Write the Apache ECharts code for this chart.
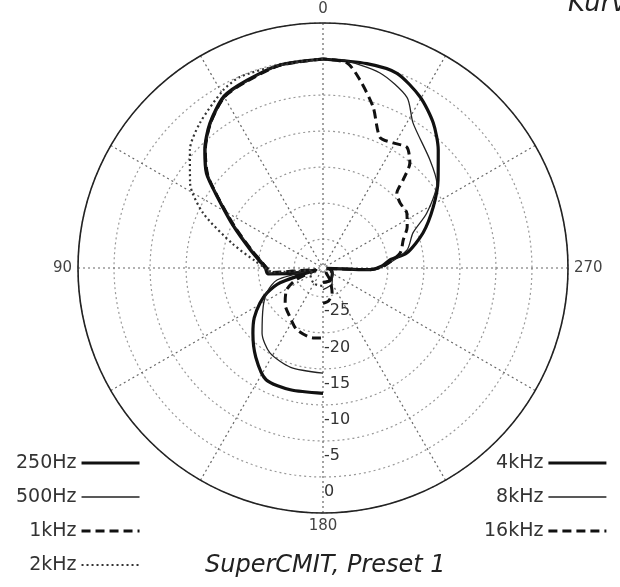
<!DOCTYPE html>
<html><head><meta charset="utf-8">
<script src="https://cdn.jsdelivr.net/npm/echarts@6/dist/echarts.min.js"></script>
<style>html,body{margin:0;padding:0;background:#fff}#c{width:620px;height:587px}</style>
</head><body><div id="c"></div>
<script>
// Compass angles in degrees: 0 = front (top), 90 = left, 180 = rear (bottom), 270 = right
// Levels in dB
const angleLabels = [0, 90, 180, 270];
const radiusLabels = [-25, -20, -15, -10, -5, 0];

// low frequencies, left half (0..180)
const ang250 = [0, 12, 22, 30, 38, 45, 51, 56, 65, 76, 84, 90, 96, 101, 105, 109, 114, 119, 126, 133, 143, 153, 165, 180];
const db250  = [0, -0.2, -0.9, -1.5, -3.5, -5.8, -8.2, -11.3, -15.3, -18.6, -20.2, -21, -21.3, -25, -28, -22.7, -20.5, -19, -17.2, -15.7, -13.5, -11.6, -11.5, -11.6];

const ang500 = [0, 12, 22, 30, 38, 45, 51, 56, 65, 76, 84, 90, 96, 100, 104.6, 113, 123, 137, 148, 162, 180];
const db500  = [0, -0.3, -1.0, -1.7, -3.7, -6.0, -8.5, -11.5, -15.6, -18.9, -20.5, -21.3, -21.5, -27.5, -22.4, -20.6, -19.1, -16.6, -15.1, -14.5, -14.4];

const ang1k = [0, 12, 22, 30, 38, 45, 51, 56, 65, 76, 84, 90, 95, 100, 106, 113, 121, 134, 146, 157, 172, 180];
const db1k  = [0, -0.25, -1.0, -1.6, -3.6, -5.9, -8.4, -11.4, -15.5, -18.8, -20.4, -21.2, -22, -27.5, -28, -25, -23.1, -21.7, -20.8, -19.7, -19.2, -19.3];

const ang2k = [0, 12, 23.5, 29.3, 40.3, 48.4, 57.4, 65.4, 75, 84, 90, 95, 100, 120, 150, 180];
const db2k  = [0, -0.2, -0.1, -0.7, -2.6, -4.3, -7.1, -10.7, -16, -19.5, -21, -22, -27.5, -27, -26.5, -26.5];

// high frequencies, right half (180..360)
const ang4k = [180, 210, 240, 260, 265, 268, 272, 277, 280.1, 289.3, 299, 307.4, 315.7, 322.8, 330.4, 339.2, 347.9, 360];
const db4k  = [-27, -27, -27.5, -28, -28.5, -22.5, -20.8, -19.6, -17.2, -14.3, -11.5, -8.9, -6.1, -3.7, -1.7, -0.1, 0, 0];

const ang8k = [180, 210, 240, 260, 265, 268, 272, 282, 291.3, 297.9, 306.7, 315.3, 328.2, 333.8, 343.7, 355.3, 360];
const db8k  = [-26, -26.5, -27.5, -28, -28.5, -22.5, -20.5, -17.1, -15.6, -12.7, -9.3, -7.9, -5.3, -2.6, -0.8, 0, 0];

const ang16k = [180, 190, 200, 210, 225, 250, 264, 268, 272, 281, 289.3, 296, 303.2, 310.2, 315.4, 317.7, 320.4, 325.2, 330.7, 336.5, 342.7, 348.9, 353.3, 360];
const db16k  = [-24.1, -24.4, -25.3, -27, -28.5, -28.5, -28, -22.5, -20.5, -18.1, -17.2, -16.0, -15.1, -15.0, -14.4, -12.5, -10.1, -8.6, -9.1, -9.2, -5.6, -2.4, -0.35, 0];

const leftNames = ['250Hz', '500Hz', '1kHz', '2kHz'];
const rightNames = ['4kHz', '8kHz', '16kHz'];

// axis angle value: rear (180) sits at the axis start (bottom)
function toPolar(angs, dbs) {
  return angs.map((t, i) => {
    let a = t + 180;
    if (a > 360) a -= 360;
    return [dbs[i], a];
  });
}

const font = 'DejaVu Sans';
const styles = {
  '250Hz': { width: 3.2, type: 'solid', color: '#111' },
  '500Hz': { width: 1.3, type: 'solid', color: '#222' },
  '1kHz':  { width: 3, type: [9, 5], color: '#111' },
  '2kHz':  { width: 2.2, type: [2, 3], color: '#333' },
  '4kHz':  { width: 3.2, type: 'solid', color: '#111' },
  '8kHz':  { width: 1.3, type: 'solid', color: '#222' },
  '16kHz': { width: 3, type: [9, 5], color: '#111' }
};
function mk(name, angs, dbs) {
  const s = styles[name];
  return {
    name: name, type: 'line', coordinateSystem: 'polar', symbol: 'none', showSymbol: false,
    smooth: 0.25,
    data: toPolar(angs, dbs), silent: true, animation: false,
    lineStyle: { color: s.color, width: s.width, type: s.type }, itemStyle: { color: s.color }
  };
}
function legendItems(names) {
  return names.map(n => ({ name: n, lineStyle: { width: styles[n].width, type: styles[n].type, color: styles[n].color } }));
}

const legendCommon = {
  orient: 'vertical', align: 'right', top: 453, padding: 0,
  itemWidth: 58, itemHeight: 14, itemGap: 14, selectedMode: false,
  itemStyle: { opacity: 0 },
  textStyle: { fontFamily: font, fontSize: 19, color: '#333', lineHeight: 20 }
};

const chart = echarts.init(document.getElementById('c'), null, { renderer: 'canvas' });
chart.setOption({
  backgroundColor: '#fff',
  animation: false,
  title: [
    { text: 'SuperCMIT, Preset 1', left: 200, top: 549,
      textStyle: { fontFamily: font, fontStyle: 'italic', fontWeight: 'normal', fontSize: 24, color: '#222' } },
    { text: 'Kurve', left: 563, top: -14,
      textStyle: { fontFamily: font, fontStyle: 'italic', fontWeight: 'normal', fontSize: 26, color: '#222' } }
  ],
  legend: [
    Object.assign({ data: legendItems(leftNames), left: 16 }, legendCommon),
    Object.assign({ data: legendItems(rightNames), right: 12 }, legendCommon)
  ],
  polar: { center: [323, 268], radius: 245 },
  angleAxis: {
    type: 'value', min: 0, max: 360, interval: 30, startAngle: -90, clockwise: false,
    axisLine: { show: true, lineStyle: { color: '#222', width: 1.6 } },
    axisTick: { show: false },
    axisLabel: {
      show: true, margin: 6, fontFamily: font, fontSize: 15, color: '#444',
      formatter: function (v) { const c = (v + 180) % 360; return angleLabels.indexOf(c) >= 0 ? String(c) : ''; }
    },
    splitLine: { show: true, lineStyle: { color: '#666', width: 1.2, type: [2, 3] } }
  },
  radiusAxis: {
    type: 'value', min: -29, max: 5, minInterval: 5, maxInterval: 5,
    axisLine: { show: false }, axisTick: { show: false },
    axisLabel: {
      show: true, margin: 1, fontFamily: font, fontSize: 16, color: '#333',
      verticalAlign: 'top', lineHeight: 29,
      formatter: function (v) { return radiusLabels.indexOf(v) >= 0 ? String(v) : ''; }
    },
    splitLine: { show: true, lineStyle: { color: '#999', width: 1.2, type: [2, 3] } }
  },
  series: [
    mk('250Hz', ang250, db250),
    mk('500Hz', ang500, db500),
    mk('1kHz', ang1k, db1k),
    mk('2kHz', ang2k, db2k),
    mk('4kHz', ang4k, db4k),
    mk('8kHz', ang8k, db8k),
    mk('16kHz', ang16k, db16k)
  ]
});
</script>
</body></html>
